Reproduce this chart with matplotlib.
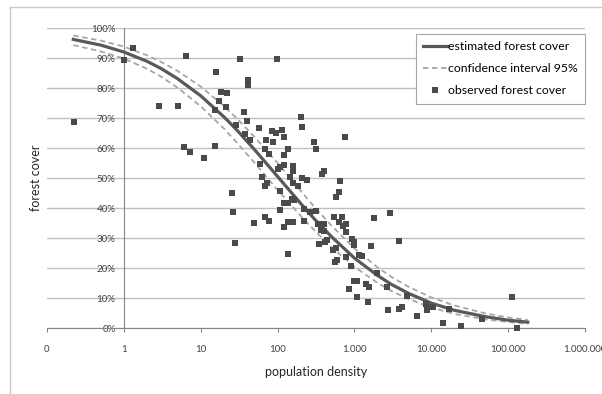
import numpy as np
import matplotlib
matplotlib.use("Agg")
import matplotlib.pyplot as plt
from matplotlib.lines import Line2D

plt.rcParams['font.family'] = ['Lato', 'DejaVu Sans']

# observed forest cover (population density, cover in %)
density = [0.224, 1.0, 1.31, 2.85, 5.03, 6.39, 6.01, 7.2, 10.9, 15.2,
           15.7, 18.2, 21.8, 17.1, 15.2, 21.1, 32.1, 40.7, 40.7, 28.5,
           36.2, 39.6, 37.3, 43.3, 56.6, 97, 83.6, 94.2, 113, 123,
           69.8, 86.1, 67.8, 76.4, 123, 135, 58.4, 62, 72, 67.8,
           100, 109, 120, 161, 161, 147, 161, 182, 106, 25.3,
           199, 205, 764, 294, 321, 211, 245, 384, 396, 658,
           638, 583, 26, 27.7, 48.8, 67.8, 76.4, 106, 120, 135,
           161, 135, 120, 135, 152, 166, 224, 268, 321, 224,
           331, 396, 362, 396, 550, 698, 638, 720, 787, 787,
           1820, 2935, 341, 408, 446, 534, 583, 942, 1000, 1000,
           1663, 567, 601, 787, 1162, 1271, 914, 861, 1000, 1094,
           1094, 1431, 1567, 1521, 1990, 2683, 2766, 3841, 3841, 4200,
           4878, 6577, 8610, 8870, 8870, 10600, 14300, 17100, 24500, 45900,
           112800, 130900]
cover = [68.7, 89.3, 93.3, 74.0, 74.0, 90.7, 60.3, 58.7, 56.7, 60.7,
         85.3, 78.7, 78.3, 75.7, 72.7, 73.7, 89.7, 82.7, 81.0, 67.7,
         72.0, 69.0, 64.7, 62.7, 66.7, 89.7, 65.7, 65.0, 66.0, 63.7,
         62.7, 62.0, 59.7, 58.0, 57.7, 59.7, 54.7, 50.3, 48.3, 47.3,
         53.0, 53.7, 54.3, 54.0, 52.3, 50.3, 48.3, 47.3, 45.7, 45.0,
         70.3, 67.0, 63.7, 62.0, 59.7, 50.0, 49.3, 51.3, 52.3, 49.0,
         45.3, 43.7, 38.7, 28.3, 35.0, 37.0, 35.7, 39.3, 33.7, 35.3,
         35.3, 24.7, 41.7, 41.7, 43.0, 42.7, 39.7, 38.7, 39.0, 35.7,
         34.7, 34.7, 32.7, 32.3, 37.0, 37.0, 35.3, 34.0, 34.7, 32.0,
         36.7, 38.3, 28.0, 28.7, 29.3, 26.0, 26.7, 29.7, 28.7, 27.7,
         27.3, 22.0, 22.7, 23.7, 24.3, 24.0, 20.7, 13.0, 15.7, 15.7,
         10.3, 14.7, 13.7, 8.7, 18.3, 13.7, 6.0, 29.0, 6.3, 7.0,
         10.7, 4.0, 8.0, 7.0, 6.0, 7.0, 1.7, 6.3, 0.7, 3.0,
         10.3, 0.0]

# estimated curve and 95% band
curve_x = [0.22, 0.5, 1, 2, 3, 5, 10, 20, 30, 50, 100, 200, 300, 500,
           1000, 2000, 3000, 5000, 10000, 20000, 50000, 100000, 180000]
estimate = [96.2, 94.3, 92.0, 88.9, 86.6, 83.1, 77.4, 70.4, 65.8, 59.5,
            50.5, 41.5, 36.4, 30.5, 23.3, 17.5, 14.6, 11.6, 8.3, 5.9,
            3.8, 2.6, 1.95]
ci_upper = [97.5, 95.8, 93.8, 90.9, 88.8, 85.7, 80.5, 74.0, 69.7, 63.7,
            55.0, 45.7, 40.4, 34.2, 26.5, 20.2, 17.1, 13.8, 10.2, 7.5,
            4.9, 3.5, 2.7]
ci_lower = [94.3, 92.2, 89.8, 86.4, 83.9, 80.1, 73.9, 66.5, 61.6, 55.1,
            46.0, 37.4, 32.6, 27.0, 20.4, 15.0, 12.4, 9.7, 6.8, 4.7,
            2.9, 2.0, 1.4]

xticks = [0.1, 1, 10, 100, 1000, 10000, 100000, 1000000]
xlabels = ['0', '1', '10', '100', '1.000', '10.000', '100.000', '1.000.000']
yticks = [0, 10, 20, 30, 40, 50, 60, 70, 80, 90, 100]

fig = plt.figure(figsize=(6.02, 3.94), dpi=100)
ax = fig.add_axes([47/602, 66/394, 538/602, 300/394])

ax.plot(curve_x, ci_upper, color='#a6a6a6', lw=1.3, ls=(0, (3, 2)), zorder=3)
ax.plot(curve_x, ci_lower, color='#a6a6a6', lw=1.3, ls=(0, (3, 2)), zorder=3)
ax.plot(curve_x, estimate, color='#595959', lw=2.3, zorder=4)
ax.scatter(density, cover, marker='s', s=21, color='#4a4a4a', lw=0,
           zorder=5, clip_on=False)

ax.set_xscale('log')
ax.set_xlim(0.1, 1000000)
ax.set_ylim(0, 100)
ax.set_xticks(xticks)
ax.set_xticklabels(xlabels)
ax.xaxis.set_minor_locator(matplotlib.ticker.NullLocator())
ax.set_yticks(yticks)
ax.set_yticklabels(['%d%%' % v for v in yticks])

ax.grid(axis='y', color='#c0c0c0', lw=1)
ax.set_axisbelow(True)
for s in ['top', 'right']:
    ax.spines[s].set_visible(False)
ax.spines['left'].set_position(('data', 1))
ax.spines['left'].set_color('#868686')
ax.spines['bottom'].set_color('#868686')
ax.tick_params(axis='y', length=0, pad=6, labelsize=7, labelcolor='#404040')
ax.tick_params(axis='x', length=3, color='#868686', pad=9, labelsize=7,
               labelcolor='#404040')

ax.set_xlabel('population density', fontsize=9, color='#262626')
ax.xaxis.set_label_coords(0.5, -0.125)
ax.set_ylabel('forest cover', fontsize=9, color='#262626')
ax.yaxis.set_label_coords(-0.01, 0.5)

handles = [Line2D([], [], color='#595959', lw=2.3),
           Line2D([], [], color='#a6a6a6', lw=1.3, ls=(0, (3, 2))),
           Line2D([], [], color='#4a4a4a', ls='', marker='s', markersize=4.3,
                  markeredgewidth=0)]
leg = ax.legend(handles, ['estimated forest cover', 'confidence interval 95%',
                          'observed forest cover'],
                loc='upper left', bbox_to_anchor=(416/602, 360/394),
                bbox_transform=fig.transFigure, borderaxespad=0,
                fontsize=8.8, handlelength=1.9, handletextpad=0.15,
                labelspacing=0.9, borderpad=0.6, fancybox=False,
                framealpha=1, edgecolor='#a6a6a6')
leg.get_frame().set_linewidth(0.8)

# chart area border
fig.add_artist(Line2D([10/602, 1], [387/394, 387/394], color='#c8c8c8', lw=1))
fig.add_artist(Line2D([10/602, 10/602], [0, 387/394], color='#c8c8c8', lw=1))

fig.savefig('out.png', dpi=100)
